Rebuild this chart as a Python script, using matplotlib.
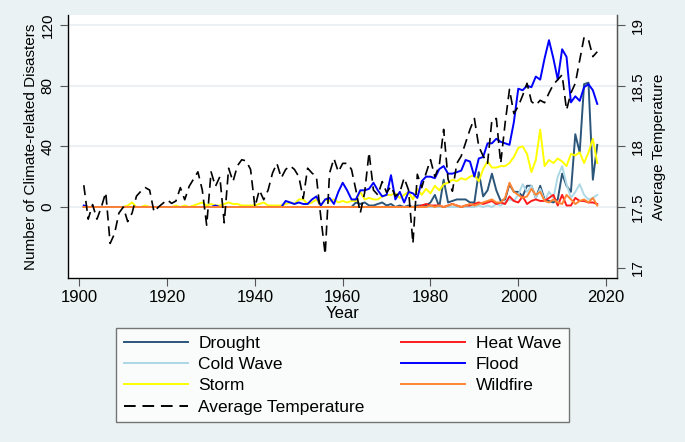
import numpy as np
import matplotlib
matplotlib.use("Agg")
import matplotlib.pyplot as plt

plt.rcParams['font.family'] = ['Liberation Sans', 'DejaVu Sans']

# --- DATA ---
years = list(range(1901, 2019))

avg_temp = [
    17.68, 17.40, 17.52, 17.40, 17.50, 17.62, 17.20, 17.28, 17.45, 17.50,
    17.38, 17.45, 17.59, 17.63, 17.66, 17.64, 17.46, 17.50, 17.53, 17.56,
    17.53, 17.55, 17.66, 17.56, 17.67, 17.73, 17.79, 17.64, 17.35, 17.79,
    17.67, 17.75, 17.37, 17.82, 17.71, 17.84, 17.89, 17.88, 17.81, 17.50,
    17.64, 17.56, 17.64, 17.78, 17.86, 17.74, 17.81, 17.84, 17.81, 17.75,
    17.57, 17.82, 17.78, 17.75, 17.42, 17.11, 17.78, 17.90, 17.79, 17.86,
    17.86, 17.81, 17.64, 17.45, 17.62, 17.95, 17.64, 17.60, 17.71, 17.62,
    17.67, 17.59, 17.62, 17.74, 17.64, 17.20, 17.77, 17.66, 17.78, 17.89,
    17.75, 17.84, 18.14, 17.73, 17.63, 17.86, 17.92, 18.03, 18.14, 18.23,
    18.00, 17.92, 17.86, 18.22, 18.23, 17.86, 18.19, 18.47, 18.27, 18.33,
    18.42, 18.52, 18.37, 18.34, 18.38, 18.36, 18.44, 18.51, 18.55, 18.59,
    18.30, 18.44, 18.52, 18.71, 18.90, 18.88, 18.74, 18.78,
]

flood = [
    1, 0, 0, 0, 0, 0, 0, 0, 0, 0,
    0, 0, 0, 0, 0, 0, 0, 0, 0, 0,
    0, 0, 0, 0, 0, 0, 0, 0, 0, 0,
    1, 0, 0, 0, 0, 0, 0, 0, 0, 0,
    0, 0, 0, 0, 0, 0, 4, 3, 2, 3,
    2, 2, 5, 7, 1, 5, 6, 2, 10, 16,
    11, 5, 5, 11, 11, 12, 16, 11, 7, 8,
    21, 5, 10, 3, 10, 9, 6, 17, 20, 20,
    19, 25, 27, 22, 22, 23, 24, 31, 30, 20,
    32, 33, 42, 42, 45, 43, 42, 41, 56, 78,
    77, 80, 79, 86, 84, 98, 110, 98, 84, 104,
    99, 69, 73, 70, 79, 81, 77, 68,
]

storm = [
    0, 0, 0, 0, 0, 0, 0, 0, 0, 0,
    1, 3, 0, 0, 1, 0, 0, 0, 0, 0,
    0, 1, 0, 1, 0, 1, 2, 3, 1, 2,
    1, 1, 2, 3, 2, 2, 1, 1, 1, 1,
    2, 3, 1, 1, 1, 1, 2, 3, 2, 5,
    5, 2, 3, 5, 1, 5, 4, 5, 3, 4,
    3, 4, 4, 10, 5, 6, 5, 5, 7, 8,
    8, 9, 6, 8, 10, 5, 12, 8, 12, 9,
    14, 11, 15, 16, 18, 17, 19, 18, 20, 21,
    17, 25, 30, 26, 26, 27, 27, 29, 33, 39,
    40, 35, 23, 31, 51, 27, 31, 29, 32, 30,
    27, 35, 34, 36, 29, 36, 45, 29,
]

# 1901-1962 are zero
drought = [0] * 62 + [
    3, 2, 3, 1, 1, 2, 3, 1,
    2, 0, 1, 0, 1, 0, 1, 1, 1, 3,
    8, 0, 18, 3, 4, 5, 5, 5, 3, 3,
    23, 7, 11, 22, 11, 4, 5, 15, 10, 10,
    7, 14, 14, 6, 14, 5, 4, 3, 5, 22,
    14, 10, 48, 36, 81, 82, 18, 41,
]

cold_wave = [0] * 90 + [
    1, 0, 1, 0, 2, 1, 3, 5, 4, 8,
    15, 10, 14, 6, 12, 4, 10, 6, 20, 27,
    15, 6, 10, 15, 8, 5, 6, 8,
]

heat_wave = [0] * 77 + [
    1, 2, 1,
    1, 1, 0, 1, 2, 1, 0, 1, 1, 2,
    3, 2, 3, 4, 2, 3, 2, 7, 4, 3,
    7, 2, 4, 5, 4, 4, 6, 8, 1, 8,
    1, 1, 6, 4, 4, 3, 3, 2,
]

wildfire = [0] * 79 + [
    1,
    0, 1, 0, 1, 2, 1, 0, 1, 2, 1,
    2, 3, 4, 5, 3, 3, 6, 16, 10, 8,
    6, 7, 12, 8, 10, 4, 3, 5, 3, 2,
    8, 5, 2, 4, 5, 3, 6, 1,
]

series = [
    ("Drought", drought, "#2b5579"),
    ("Cold Wave", cold_wave, "#add8e6"),
    ("Storm", storm, "#ffff00"),
    ("Heat Wave", heat_wave, "#ff1a1a"),
    ("Flood", flood, "#0000ff"),
    ("Wildfire", wildfire, "#ff8533"),
]

bg = "#eaf2f3"
axis_col = "#555555"

fig = plt.figure(figsize=(6.85, 4.42), dpi=100, facecolor=bg)
ax = fig.add_axes([68 / 685, 1 - 278 / 442, 549 / 685, 263 / 442])
ax.set_facecolor("white")

handles = {}
for name, vals, col in series:
    h, = ax.plot(years, vals, color=col, linewidth=1.4, label=name)
    handles[name] = h

ax.set_xlim(1897.4, 2022.5)
ax.set_ylim(-46.8, 126.6)
ax.set_yticks([0, 40, 80, 120])
ax.set_xticks(range(1900, 2021, 20))
ax.grid(axis="y", color="#e6eef1", linewidth=1.2)
ax.set_axisbelow(True)
ax.spines["top"].set_visible(False)
for s in ["left", "bottom", "right"]:
    ax.spines[s].set_color(axis_col)
    ax.spines[s].set_linewidth(1.0)
ax.tick_params(axis="x", labelsize=12, color=axis_col, length=6, pad=3)
ax.tick_params(axis="y", labelsize=11, color=axis_col, length=6, labelrotation=90)
for lab in ax.get_yticklabels():
    lab.set_va("center")
ax.set_xlabel("Year", fontsize=12, labelpad=0)
ax.set_ylabel("Number of Climate-related Disasters", fontsize=11, labelpad=2)

ax2 = ax.twinx()
h_t, = ax2.plot(years, avg_temp, color="black", linewidth=1.2,
                linestyle=(0, (6, 3.5)), label="Average Temperature")
ax2.set_ylim(16.915, 19.083)
ax2.set_yticks([17, 17.5, 18, 18.5, 19])
ax2.set_yticklabels(["17", "17.5", "18", "18.5", "19"])
ax2.spines["top"].set_visible(False)
ax2.spines["right"].set_color(axis_col)
ax2.tick_params(axis="y", labelsize=11, color=axis_col, length=6, pad=4,
                labelrotation=90)
for lab in ax2.get_yticklabels():
    lab.set_va("center")
ax2.set_ylabel("Average Temperature", fontsize=11, labelpad=5)

order = ["Drought", "Cold Wave", "Storm"]
legend_handles = [handles[n] for n in order] + [h_t] + \
    [handles[n] for n in ["Heat Wave", "Flood", "Wildfire"]]
leg = fig.legend(handles=legend_handles, ncol=2, loc="upper left",
                 bbox_to_anchor=(116 / 685, 1 - 328 / 442, 453 / 685, 0),
                 mode="expand", fontsize=12.5, frameon=True, fancybox=False,
                 handlelength=3.7, handletextpad=0.6, borderaxespad=0,
                 labelspacing=0.35, borderpad=0.45, columnspacing=1)
leg.get_frame().set_edgecolor(axis_col)
leg.get_frame().set_linewidth(1.0)
for lh in leg.get_lines():
    lh.set_linewidth(1.4)

fig.savefig("out.png", dpi=100, facecolor=bg)
